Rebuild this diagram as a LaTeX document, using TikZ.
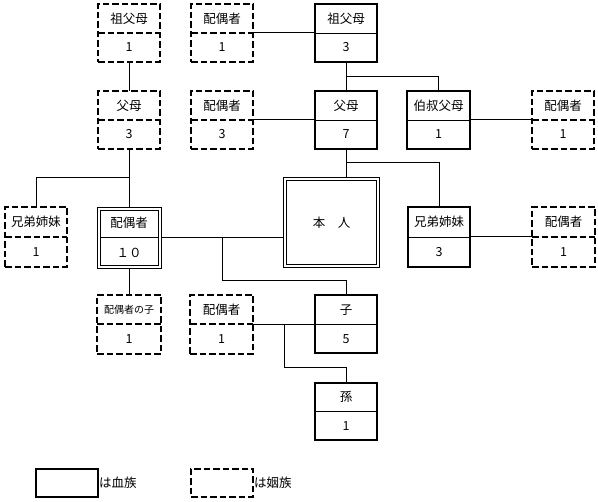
\documentclass[tikz,border=0pt]{standalone}
\usepackage{fontspec}
\setmainfont{Noto Sans CJK JP}
\usetikzlibrary{calc}
\tikzset{
  x=1pt, y=-1pt,
  base/.style={inner sep=0pt, outer sep=0pt},
  solidbox/.style={base, draw, line width=2pt},
  soliddiv/.style={line width=0.9pt},
  dashbox/.style={base, draw, line width=2pt, dash pattern=on 6.5pt off 3pt},
  dashdiv/.style={line width=2pt, dash pattern=on 6.5pt off 3pt},
  dblbox/.style={base, draw, line width=1pt},
  dblinner/.style={line width=1pt},
  dbldiv/.style={line width=1pt, shorten <=3pt, shorten >=3pt},
  lbl/.style={inner sep=0pt, font=\fontsize{12.5}{12.5}\selectfont},
  conn/.style={line width=1pt},
}
\newcommand\famnode[8]{%
  \node[#2box, minimum width=#5pt, minimum height=#6pt] (#1) at (#3,#4) {};
  \draw[#2div] (#1.west) -- (#1.east);
  \node[lbl] (#1-t) at ($(#1.center)+(0,-#6/4)$) {#7};
  \node[lbl] (#1-b) at ($(#1.center)+(0,#6/4)$) {#8};
}
\newcommand\innerframe[1]{%
  \draw[dblinner] ([shift={(3pt,-3pt)}]#1.north west) rectangle ([shift={(-3pt,3pt)}]#1.south east);
}
\begin{document}
\begin{tikzpicture}
\useasboundingbox (0,0) rectangle (598,502);
% row 1
\famnode{gpL}{dash}{129}{33}{62}{58}{祖父母}{1}
\famnode{sp1}{dash}{222}{33}{62}{58}{配偶者}{1}
\famnode{gpR}{solid}{346}{33}{62}{58}{祖父母}{3}
% row 2
\famnode{pL}{dash}{129}{120}{62}{58}{父母}{3}
\famnode{sp3}{dash}{222}{120}{62}{58}{配偶者}{3}
\famnode{pR}{solid}{346}{120}{62}{58}{父母}{7}
\famnode{uncle}{solid}{438.5}{120}{63}{58}{伯叔父母}{1}
\famnode{spU}{dash}{563}{120}{62}{58}{配偶者}{1}
% row 3
\famnode{sibL}{dash}{36}{237}{62}{60}{兄弟姉妹}{1}
\famnode{sp10}{dbl}{129}{238}{64}{61}{配偶者}{１０}
\innerframe{sp10}
\node[dblbox, minimum width=96pt, minimum height=90pt] (honin) at (331.5,222.5) {};
\innerframe{honin}
\node[lbl] (honin-t) at (honin.center) {本　人};
\famnode{sibR}{solid}{439}{237}{62}{60}{兄弟姉妹}{3}
\famnode{spS}{dash}{563.5}{237}{63}{60}{配偶者}{1}
% row 4
\famnode{spc}{dash}{129}{324.5}{64}{59}{{\fontsize{10}{10}\selectfont 配偶者の子}}{1}
\famnode{sp1b}{dash}{221.5}{324.5}{63}{59}{配偶者}{1}
\famnode{child}{solid}{346}{324.5}{62}{58}{子}{5}
% row 5
\famnode{grand}{solid}{346}{411.5}{62}{57}{孫}{1}
% legend
\node[solidbox, minimum width=62pt, minimum height=28pt] (lg1) at (67,483) {};
\node[lbl, anchor=west] (lg1-t) at ([xshift=1pt]lg1.east) {は血族};
\node[dashbox, minimum width=62pt, minimum height=28pt] (lg2) at (222,483) {};
\node[lbl, anchor=west] (lg2-t) at ([xshift=1pt]lg2.east) {は姻族};
% connectors
\draw[conn] (gpL.south) -- (pL.north);
\draw[conn] (sp1.east) -- (gpR.west);
\draw[conn] (gpR.south) -- (pR.north);
\coordinate (j1) at (346,77);
\draw[conn] (j1) -| (uncle.north);
\draw[conn] (sp3.east) -- (pR.west);
\draw[conn] (uncle.east) -- (spU.west);
\draw[conn] (pL.south) -- (sp10.north);
\coordinate (j2) at (129,178);
\draw[conn] (j2) -| (sibL.north);
\draw[conn] (pR.south) -- (pR.south |- honin.north);
\coordinate (j3) at (346,163);
\draw[conn] (j3) -| (sibR.north);
\draw[conn] (sp10.east) -- (sp10.east -| honin.west);
\coordinate (j4) at (222,238);
\coordinate (j5) at (346,281);
\draw[conn] (j4) |- (j5) -- (child.north);
\draw[conn] (sp10.south) -- (spc.north);
\draw[conn] (sp1b.east) -- (child.west);
\coordinate (j6) at (284,324.5);
\coordinate (j7) at (346,368);
\draw[conn] (j6) |- (j7) -- (grand.north);
\draw[conn] (sibR.east) -- (spS.west);
\end{tikzpicture}
\end{document}
